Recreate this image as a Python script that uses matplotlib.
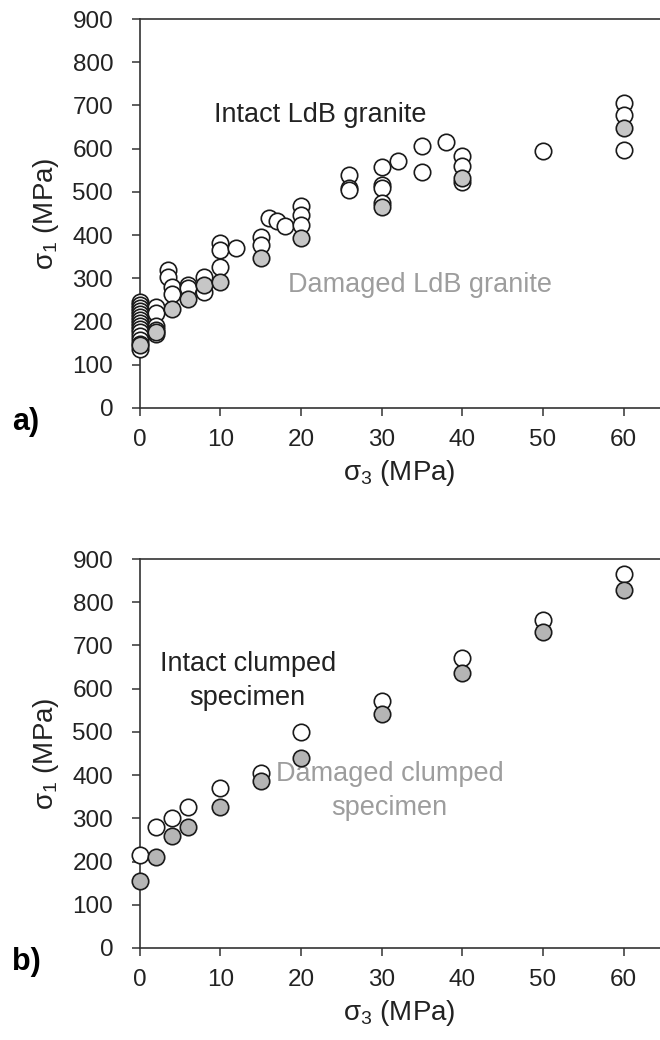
import matplotlib
matplotlib.use("Agg")
import matplotlib.pyplot as plt

plt.rcParams["font.family"] = ["Liberation Sans", "DejaVu Sans"]
plt.rcParams["mathtext.fontset"] = "custom"
plt.rcParams["mathtext.rm"] = "Liberation Sans"
plt.rcParams["mathtext.it"] = "Liberation Sans"

# panel a: Lac du Bonnet granite
a_intact_x = [0] * 15 + [2, 2, 2, 2, 2, 3.5, 3.5, 4, 4, 6, 6, 8, 8, 10, 10, 10, 12,
                         15, 15, 16, 17, 18, 20, 20, 20, 26, 26, 26, 30, 30, 30, 30,
                         32, 35, 35, 38, 40, 40, 40, 50, 60, 60, 60]
a_intact_y = [245, 238, 231, 224, 217, 210, 203, 196, 189, 182, 175, 167, 158, 148, 136,
              234, 220, 190, 180, 172, 319, 303, 280, 263, 285, 278, 303, 268, 382, 366,
              326, 370, 396, 377, 440, 433, 420, 467, 446, 424, 540, 510, 505, 557, 516,
              509, 474, 571, 606, 547, 615, 582, 561, 523, 595, 705, 678, 597]
a_damaged_x = [0, 2, 4, 6, 8, 10, 15, 20, 30, 40, 60]
a_damaged_y = [145, 175, 228, 253, 285, 292, 347, 393, 465, 532, 648]

# panel b: clumped specimen
b_x = [0, 2, 4, 6, 10, 15, 20, 30, 40, 50, 60]
b_intact_y = [215, 281, 300, 327, 369, 404, 500, 572, 670, 760, 865]
b_damaged_y = [155, 211, 258, 281, 327, 387, 439, 541, 637, 730, 828]

fig = plt.figure(figsize=(6.6, 10.4), dpi=100)
ax_a = fig.add_axes([0.2114, 0.6077, 0.7886, 0.374])
ax_b = fig.add_axes([0.2114, 0.0885, 0.7886, 0.374])

dark = "#222222"
grey_text = "#9d9d9d"


def style(ax):
    ax.set_xlim(0, 64.5)
    ax.set_ylim(0, 900)
    ax.set_xticks(range(0, 61, 10))
    ax.set_yticks(range(0, 901, 100))
    ax.spines["right"].set_visible(False)
    for s in ["left", "bottom", "top"]:
        ax.spines[s].set_linewidth(1.2)
        ax.spines[s].set_color("#333333")
    ax.tick_params(direction="out", length=6, width=1.1, color="#333333",
                   labelsize=17.5, labelcolor=dark, top=False)
    ax.tick_params(axis="y", pad=13)
    ax.tick_params(axis="x", pad=9)
    ax.set_xlabel("σ$_3$ (MPa)", fontsize=20, color=dark, labelpad=5)
    ax.set_ylabel("σ$_1$ (MPa)", fontsize=20, color=dark, labelpad=8)


style(ax_a)
ax_a.scatter(a_intact_x, a_intact_y, s=140, facecolor="white", edgecolor="#1a1a1a",
             linewidth=1.2, clip_on=False, zorder=3)
ax_a.scatter(a_damaged_x, a_damaged_y, s=140, facecolor="#c6c6c6", edgecolor="#1a1a1a",
             linewidth=1.2, clip_on=False, zorder=4)
ax_a.text(22.4, 678, "Intact LdB granite", fontsize=19.5, color=dark,
          ha="center", va="center")
ax_a.text(34.8, 285, "Damaged LdB granite", fontsize=19.5, color=grey_text,
          ha="center", va="center")

style(ax_b)
ax_b.scatter(b_x, b_intact_y, s=140, facecolor="white", edgecolor="#1a1a1a",
             linewidth=1.2, clip_on=False, zorder=3)
ax_b.scatter(b_x, b_damaged_y, s=140, facecolor="#b5b5b5", edgecolor="#1a1a1a",
             linewidth=1.2, clip_on=False, zorder=4)
ax_b.text(13.4, 618, "Intact clumped\nspecimen", fontsize=19.5, color=dark,
          ha="center", va="center", linespacing=1.37)
ax_b.text(31, 363, "Damaged clumped\nspecimen", fontsize=19.5, color=grey_text,
          ha="center", va="center", linespacing=1.37)

fig.text(0.018, 1 - 422 / 1040, "a)", fontsize=22, fontweight="bold", va="center")
fig.text(0.018, 1 - 962 / 1040, "b)", fontsize=22, fontweight="bold", va="center")

fig.savefig("out.png", dpi=100)
